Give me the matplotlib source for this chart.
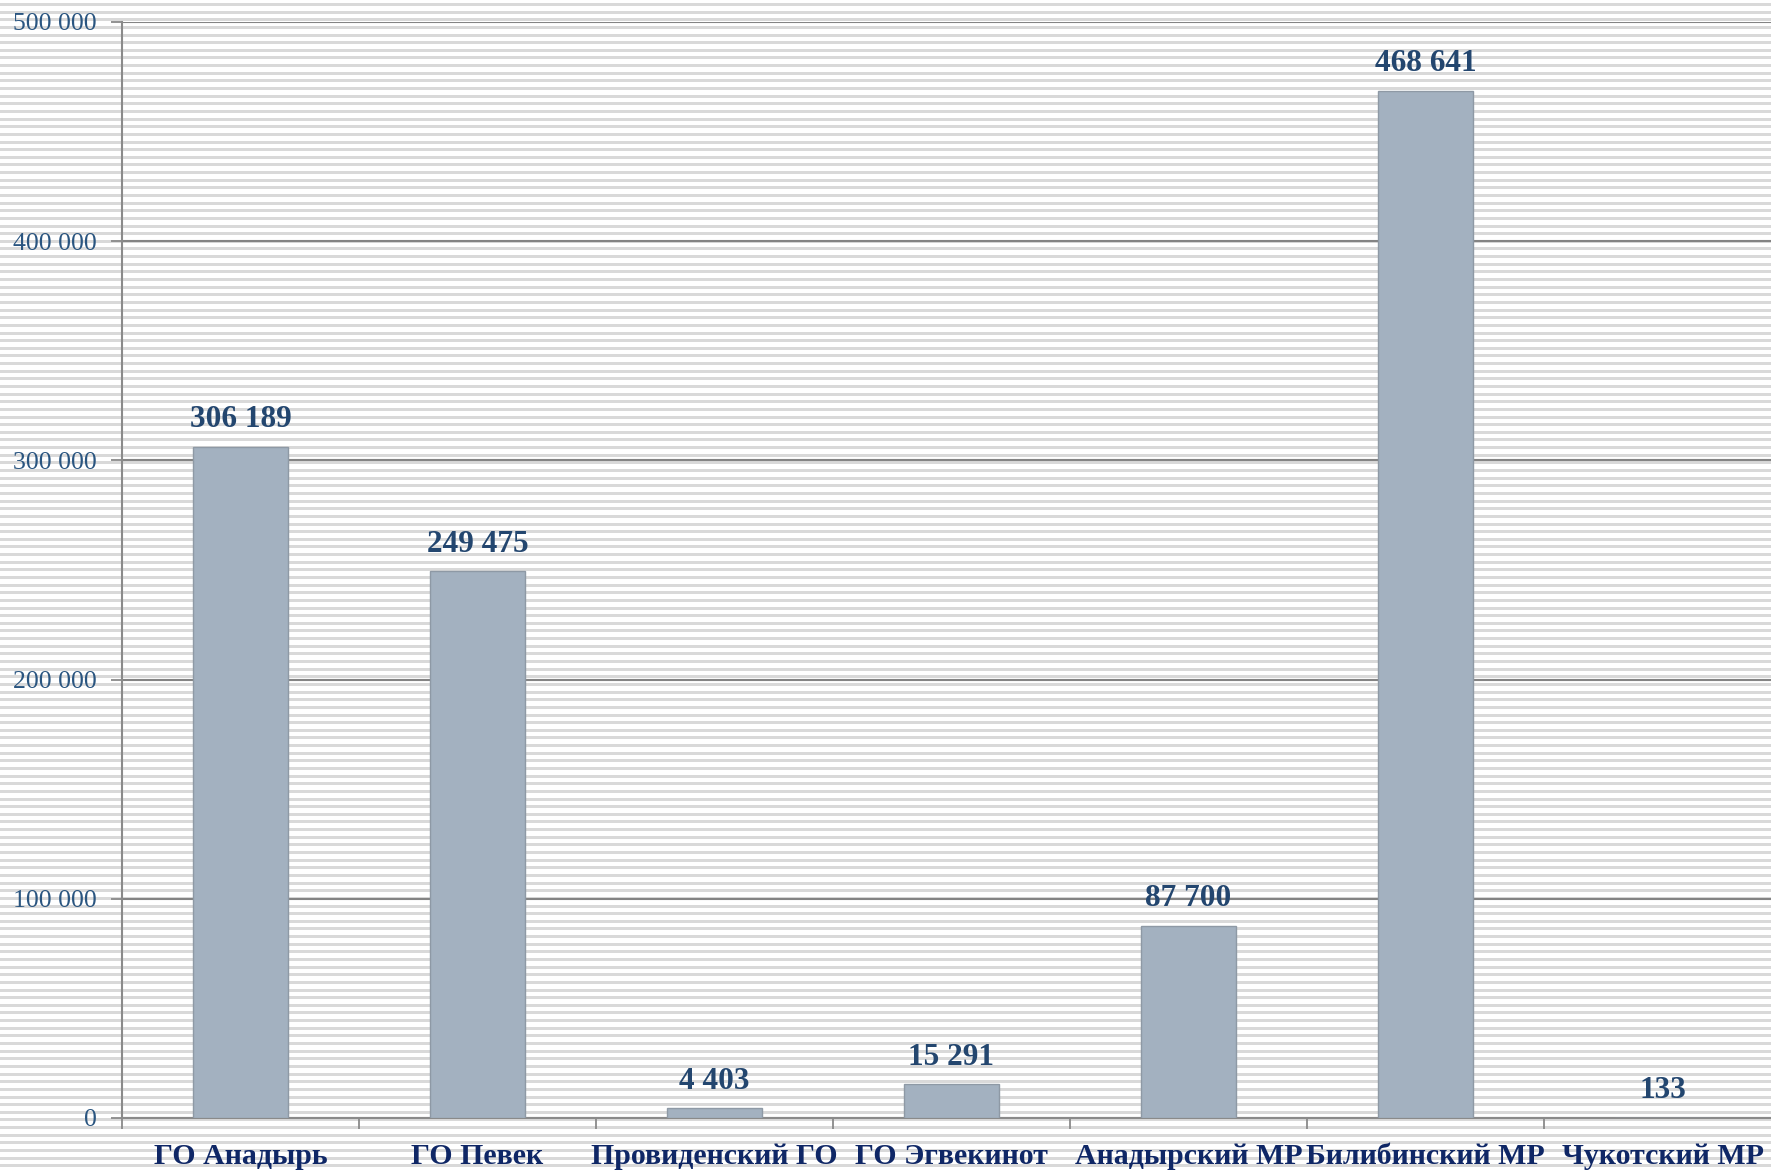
import numpy as np
from matplotlib import pyplot as plt

# municipalities of Chukotka and their values
districts = [
    "ГО Анадырь",
    "ГО Певек",
    "Провиденский ГО",
    "ГО Эгвекинот",
    "Анадырский МР",
    "Билибинский МР",
    "Чукотский МР",
]
values = [306189, 249475, 4403, 15291, 87700, 468641, 133]
y_ticks = [0, 100000, 200000, 300000, 400000, 500000]

plt.rcParams["font.family"] = ["Liberation Serif", "DejaVu Serif"]

W, H = 1771, 1171
fig = plt.figure(figsize=(W / 100, H / 100), dpi=100)

# striped background over the whole picture, snapped to whole pixel rows
bg = fig.add_axes([0, 0, 1, 1], zorder=-1)
bg.set_xlim(0, W)
bg.set_ylim(H, 0)
rows = np.round(np.arange(4, H, 7.64))
bg.hlines(rows, 0, W, color="#d9d9d9", linewidth=1.8, antialiased=False)
bg.axis("off")

left, bottom, top = 122, 1118, 22
ax = fig.add_axes([left / W, (H - bottom) / H, 1659 / W, (bottom - top) / H])
ax.patch.set_alpha(0)

x = np.arange(len(districts))
bars = ax.bar(x, values, width=0.4, color="#a3b1c0", edgecolor="#8e99a5",
              linewidth=1.0, zorder=3)
ax.bar_label(bars, labels=[f"{v:,}".replace(",", " ") for v in values],
             padding=9, fontsize=22.5, fontweight="bold", color="#23466f")

ax.set_xlim(-0.5, len(districts) - 0.5)
ax.set_ylim(0, 500000)
ax.set_yticks(y_ticks)
ax.set_yticklabels([f"{v:,}".replace(",", " ") for v in y_ticks])
ax.yaxis.grid(True, color="#848484", linewidth=1.5, zorder=1)
ax.set_axisbelow(True)

# boundaries between categories get the tick marks, centers get the labels
ax.set_xticks(np.arange(-0.5, len(districts), 1.0))
ax.set_xticklabels([])
ax.set_xticks(x, minor=True)
ax.set_xticklabels(districts, minor=True, fontsize=21.5, fontweight="bold",
                   color="#0f2766")
ax.tick_params(axis="x", which="major", length=8, width=1.3, color="#8a8a8a")
ax.tick_params(axis="x", which="minor", length=0, pad=18)
ax.tick_params(axis="y", length=8, width=1.3, color="#8a8a8a", pad=10,
               labelsize=18.5, labelcolor="#2a5580")

for side in ["top", "right"]:
    ax.spines[side].set_visible(False)
for side in ["left", "bottom"]:
    ax.spines[side].set_color("#8a8a8a")
    ax.spines[side].set_linewidth(1.5)

plt.savefig("out.png", dpi=100)
